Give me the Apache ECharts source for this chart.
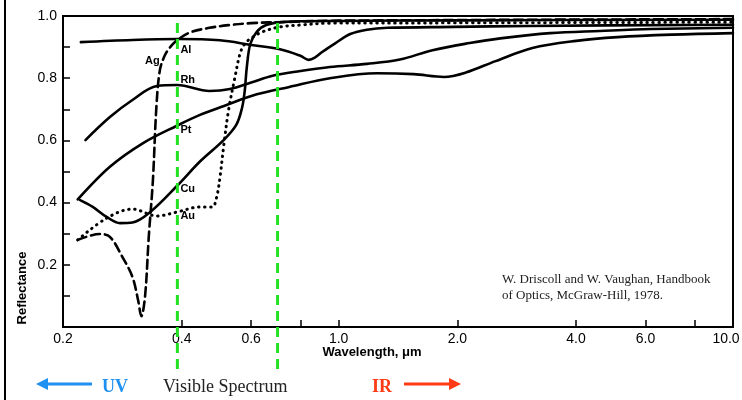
<!DOCTYPE html>
<html><head><meta charset="utf-8">
<script src="https://cdn.jsdelivr.net/npm/echarts@6/dist/echarts.min.js"></script>
<style>html,body{margin:0;padding:0;background:#fff;}#c{width:742px;height:400px;}</style>
</head><body><div id="c"></div>
<script>
// ---- data ----
const xTickValues = [0.2, 0.4, 0.6, 0.8, 1, 2, 4, 6, 8, 10];
const xLabelValues = [0.2, 0.4, 0.6, 1, 2, 4, 6, 10];
const yLabelValues = [0.2, 0.4, 0.6, 0.8, 1.0];
const visibleBounds = [0.39, 0.7];

const alWl = [0.222, 0.30, 0.39, 0.50, 0.60, 0.71, 0.80, 0.84, 0.87, 0.91, 0.98, 1.07, 1.18, 1.33, 1.96, 3.0, 10];
const alR  = [0.916, 0.923, 0.926, 0.922, 0.907, 0.893, 0.872, 0.859, 0.866, 0.885, 0.912, 0.942, 0.956, 0.962, 0.965, 0.968, 0.972];

const agWl = [0.218, 0.248, 0.263, 0.283, 0.300, 0.310, 0.316, 0.323, 0.330, 0.338, 0.345, 0.352, 0.362, 0.374, 0.39, 0.42, 0.47, 0.53, 0.60, 0.74, 1.0, 10];
const agR  = [0.280, 0.299, 0.290, 0.225, 0.161, 0.087, 0.035, 0.100, 0.290, 0.470, 0.707, 0.825, 0.872, 0.900, 0.923, 0.947, 0.962, 0.971, 0.977, 0.981, 0.985, 0.990];

const rhWl = [0.228, 0.263, 0.30, 0.346, 0.39, 0.47, 0.53, 0.60, 0.68, 0.80, 0.95, 1.18, 1.43, 1.73, 2.15, 2.57, 3.44, 4.6, 6.2, 10];
const rhR  = [0.601, 0.675, 0.730, 0.775, 0.778, 0.759, 0.765, 0.786, 0.808, 0.823, 0.836, 0.846, 0.860, 0.890, 0.913, 0.928, 0.945, 0.952, 0.958, 0.962];

const ptWl = [0.218, 0.263, 0.32, 0.39, 0.445, 0.51, 0.62, 0.75, 0.95, 1.25, 1.55, 1.85, 2.1, 2.5, 3.1, 4.0, 5.1, 7.0, 10];
const ptR  = [0.410, 0.515, 0.592, 0.648, 0.682, 0.710, 0.748, 0.772, 0.800, 0.816, 0.813, 0.804, 0.818, 0.855, 0.897, 0.920, 0.932, 0.940, 0.945];

const cuWl = [0.221, 0.238, 0.258, 0.279, 0.30, 0.333, 0.39, 0.445, 0.51, 0.55, 0.569, 0.578, 0.585, 0.597, 0.62, 0.655, 0.73, 1.0, 2.0, 10];
const cuR  = [0.408, 0.386, 0.354, 0.334, 0.336, 0.370, 0.455, 0.532, 0.600, 0.650, 0.705, 0.760, 0.836, 0.910, 0.949, 0.971, 0.981, 0.984, 0.986, 0.988];

const auWl = [0.218, 0.258, 0.30, 0.346, 0.39, 0.445, 0.478, 0.49, 0.50, 0.512, 0.526, 0.546, 0.563, 0.58, 0.606, 0.64, 0.71, 0.80, 0.95, 2.0, 10];
const auR  = [0.280, 0.350, 0.379, 0.357, 0.370, 0.386, 0.386, 0.415, 0.480, 0.590, 0.698, 0.804, 0.881, 0.913, 0.932, 0.949, 0.965, 0.971, 0.977, 0.978, 0.980];

const curveLabels = ['Al', 'Ag', 'Rh', 'Pt', 'Cu', 'Au'];
const citation = ['W. Driscoll and W. Vaughan, Handbook', 'of Optics, McGraw-Hill, 1978.'];

// ---- chart ----
const zip = (a, b) => a.map((v, i) => [v, b[i]]);
const chart = echarts.init(document.getElementById('c'), null, {renderer: 'canvas'});

function lineSeries(name, wl, r, type, width) {
  return {
    name: name, type: 'line', data: zip(wl, r), showSymbol: false, symbol: 'none',
    smooth: 0.35, silent: true, animation: false, z: 3,
    lineStyle: {color: '#000', width: width || 2.6, type: type, cap: 'round', join: 'round'}
  };
}

const axisFont = {fontFamily: 'Liberation Sans, Arial, sans-serif', fontSize: 14, color: '#000'};

chart.setOption({
  animation: false,
  backgroundColor: '#fff',
  grid: {left: 63, right: 9, top: 16, bottom: 73, show: true, borderColor: '#000', borderWidth: 2,
         backgroundColor: 'transparent', containLabel: false, outerBoundsMode: 'none'},
  xAxis: {
    type: 'log', logBase: 10, min: 0.2, max: 10,
    axisLine: {show: true, lineStyle: {color: '#000', width: 2}},
    axisTick: {show: true, inside: true, length: 7, customValues: xTickValues, lineStyle: {color: '#000', width: 1.5}},
    axisLabel: Object.assign({show: true, margin: 5, customValues: xLabelValues, hideOverlap: false,
      formatter: v => (+v >= 9.99 ? '{r|' + (+v).toFixed(1) + '}' : (+v).toFixed(1)),
      rich: {r: {fontFamily: 'Liberation Sans, Arial, sans-serif', fontSize: 14, color: '#000', padding: [0, 14, 0, 0]}}
    }, axisFont),
    splitLine: {show: false}, minorTick: {show: false}
  },
  yAxis: {
    type: 'value', min: 0, max: 1, interval: 0.1,
    axisLine: {show: true, lineStyle: {color: '#000', width: 2}},
    axisTick: {show: true, inside: true, length: 7, lineStyle: {color: '#000', width: 1.5}},
    axisLabel: Object.assign({show: true, margin: 6, formatter: v => {
      const k = Math.round(v * 10);
      return (k > 0 && k % 2 === 0 && yLabelValues.indexOf(k / 10) >= 0) ? (k / 10).toFixed(1) : '';
    }}, axisFont),
    splitLine: {show: false}
  },
  series: [
    lineSeries('Al', alWl, alR, 'solid'),
    lineSeries('Ag', agWl, agR, [9, 5]),
    lineSeries('Rh', rhWl, rhR, 'solid'),
    lineSeries('Pt', ptWl, ptR, 'solid'),
    lineSeries('Cu', cuWl, cuR, 'solid'),
    lineSeries('Au', auWl, auR, [0.5, 5.5], 3)
  ]
});

// overlays positioned through the axis scale
const gx = visibleBounds.map(v => chart.convertToPixel({xAxisIndex: 0}, v));
const labelX = gx[0] + 3;
const lblStyle = {fontFamily: 'Liberation Sans, Arial, sans-serif', fontSize: 11, fontWeight: 'bold', fill: '#000'};
const labelTops = [44, 55, 74, 124, 183, 210];
const labelLefts = [labelX, 145, labelX, labelX, labelX, labelX];

const graphics = [];
gx.forEach(px => graphics.push({
  type: 'line', shape: {x1: px, y1: 23, x2: px, y2: 372}, z: 10,
  style: {stroke: '#22e222', lineWidth: 3, lineDash: [10, 6]}
}));
curveLabels.forEach((t, i) => graphics.push({
  type: 'text', left: labelLefts[i], top: labelTops[i], z: 11,
  style: Object.assign({text: t}, lblStyle)
}));
graphics.push(
  {type: 'rect', shape: {x: 4, y: 0, width: 2, height: 400}, style: {fill: '#000'}},
  {type: 'text', x: 22, y: 288, rotation: Math.PI / 2, z: 11,
   style: {text: 'Reflectance', fontFamily: 'Liberation Sans, Arial, sans-serif', fontSize: 13, fontWeight: 'bold', fill: '#000', align: 'center', verticalAlign: 'middle'}},
  {type: 'text', x: 372, y: 352, z: 11,
   style: {text: 'Wavelength, μm', fontFamily: 'Liberation Sans, Arial, sans-serif', fontSize: 13, fontWeight: 'bold', fill: '#000', align: 'center', verticalAlign: 'middle'}},
  {type: 'text', x: 502, y: 280, z: 11,
   style: {text: citation[0], fontFamily: 'Liberation Serif, Times New Roman, serif', fontSize: 13, fill: '#222', verticalAlign: 'middle'}},
  {type: 'text', x: 502, y: 296, z: 11,
   style: {text: citation[1], fontFamily: 'Liberation Serif, Times New Roman, serif', fontSize: 13, fill: '#222', verticalAlign: 'middle'}},
  // UV arrow
  {type: 'line', shape: {x1: 46, y1: 384, x2: 92, y2: 384}, style: {stroke: '#1e90f0', lineWidth: 3}},
  {type: 'polygon', shape: {points: [[36, 384], [48, 378], [48, 390]]}, style: {fill: '#1e90f0'}},
  {type: 'text', x: 102, y: 387, style: {text: 'UV', fontFamily: 'Liberation Serif, Times New Roman, serif', fontSize: 18, fontWeight: 'bold', fill: '#1e90f0', verticalAlign: 'middle'}},
  {type: 'text', x: 163, y: 387, style: {text: 'Visible Spectrum', fontFamily: 'Liberation Serif, Times New Roman, serif', fontSize: 18, fill: '#222', verticalAlign: 'middle'}},
  {type: 'text', x: 372, y: 387, style: {text: 'IR', fontFamily: 'Liberation Serif, Times New Roman, serif', fontSize: 18, fontWeight: 'bold', fill: '#ff3a14', verticalAlign: 'middle'}},
  {type: 'line', shape: {x1: 404, y1: 384, x2: 450, y2: 384}, style: {stroke: '#ff3a14', lineWidth: 3}},
  {type: 'polygon', shape: {points: [[461, 384], [449, 378], [449, 390]]}, style: {fill: '#ff3a14'}}
);
chart.setOption({graphic: graphics});
</script>
</body></html>
